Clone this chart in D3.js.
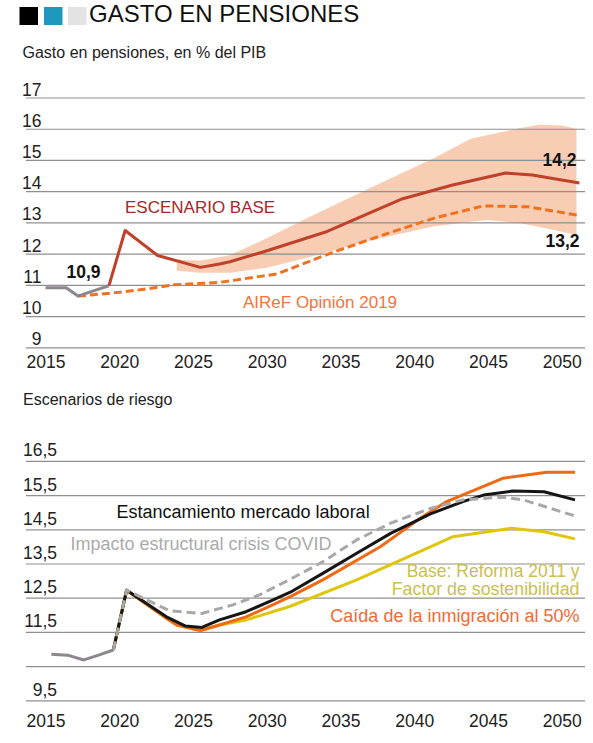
<!DOCTYPE html>
<html>
<head>
<meta charset="utf-8">
<script src="https://cdn.jsdelivr.net/npm/d3@7"></script>
<style>
  body { margin: 0; background: #fff; }
  svg { display: block; }
</style>
</head>
<body>
<div id="chart"></div>
<script>
// ---- data (x = year, y = % del PIB) ----
const yearTicks = [2015, 2020, 2025, 2030, 2035, 2040, 2045, 2050];

// panel 1: Gasto en pensiones
const topTicks = [9, 10, 11, 12, 13, 14, 15, 16, 17];
const topTickLabels = ["9", "10", "11", "12", "13", "14", "15", "16", "17"];

const histYears = [2015, 2016.4, 2017.2, 2018.2, 2019.3];
const histValues = [10.91, 10.91, 10.64, 10.8, 10.97];

const baseYears = [2019.3, 2020.4, 2022.6, 2025.5, 2026.8, 2027.5, 2029.8, 2034.1, 2039.1, 2042.6, 2046.2, 2048.0, 2051.2];
const baseValues = [10.97, 12.74, 11.94, 11.56, 11.67, 11.74, 12.06, 12.71, 13.74, 14.2, 14.58, 14.52, 14.26];

const airefYears = [2017.2, 2019.4, 2021.4, 2023.7, 2026.8, 2030.7, 2034.3, 2037.9, 2041.3, 2044.7, 2047.7, 2049.5, 2051.2];
const airefValues = [10.64, 10.73, 10.84, 11.0, 11.08, 11.35, 12.01, 12.6, 13.13, 13.53, 13.5, 13.36, 13.22];

const bandYears = [2023.9, 2025.5, 2027.5, 2030, 2033, 2037, 2041.3, 2043.8, 2045, 2047.2, 2048.5, 2050, 2051];
const bandHigh = [11.8, 11.78, 11.95, 12.49, 13.2, 14.1, 15.05, 15.67, 15.8, 16.02, 16.13, 16.1, 16.0];
const bandLow = [11.45, 11.39, 11.39, 11.55, 11.9, 12.42, 12.87, 13.02, 13.08, 12.97, 12.85, 12.7, 12.6];

// panel 2: Escenarios de riesgo
const riskTicks = [9.5, 10.5, 11.5, 12.5, 13.5, 14.5, 15.5, 16.5];
const riskTickLabels = ["9,5", "", "11,5", "12,5", "13,5", "14,5", "15,5", "16,5"];

const histYears2 = [2015.4, 2016.5, 2017.6, 2018.6, 2019.6];
const histValues2 = [10.85, 10.82, 10.68, 10.82, 10.97];

const reformaYears = [2019.6, 2020.5, 2023.2, 2023.9, 2025.5, 2026.8, 2028.6, 2030.4, 2031.6, 2036.1, 2042.6, 2046.6, 2048.8, 2050.9];
const reformaValues = [10.97, 12.72, 11.9, 11.7, 11.54, 11.7, 11.85, 12.09, 12.25, 13.02, 14.28, 14.53, 14.43, 14.22];

const inmigYears = [2019.6, 2020.5, 2023.2, 2023.9, 2025.5, 2026.8, 2028.6, 2030.4, 2031.6, 2033.8, 2037.7, 2040.4, 2042.2, 2046, 2049, 2050.9];
const inmigValues = [10.97, 12.72, 11.9, 11.7, 11.54, 11.7, 11.94, 12.29, 12.53, 13.02, 13.99, 14.82, 15.31, 15.99, 16.17, 16.17];

const laboralYears = [2019.6, 2020.5, 2023.2, 2024.5, 2025.6, 2026.8, 2028.6, 2030.4, 2031.6, 2033.8, 2036.1, 2038.4, 2041.1, 2043.3, 2044.7, 2046.7, 2048.8, 2050.9];
const laboralValues = [10.97, 12.72, 11.94, 11.67, 11.63, 11.85, 12.09, 12.43, 12.66, 13.21, 13.8, 14.38, 14.95, 15.31, 15.5, 15.62, 15.6, 15.36];

const covidYears = [2019.6, 2020.5, 2021.9, 2023.4, 2025.6, 2027.7, 2029.5, 2031.6, 2033.8, 2036.1, 2038.4, 2041.1, 2043.3, 2046, 2047.4, 2050.9];
const covidValues = [10.97, 12.72, 12.43, 12.12, 12.04, 12.29, 12.58, 13.04, 13.55, 14.19, 14.68, 15.11, 15.36, 15.44, 15.36, 14.89];

// ---- drawing ----
const W = 593, H = 743;
const SANS = "'Liberation Sans', Arial, Helvetica, sans-serif";
const NARROW = "'Liberation Sans Narrow', 'Arial Narrow', 'Liberation Sans', sans-serif";
const GRID = "#8f8f8f";

const svg = d3.select("#chart").append("svg")
  .attr("width", W)
  .attr("height", H);

// header
const squares = [
  { x: 19.5, c: "#000000" },
  { x: 44, c: "#1f98bd" },
  { x: 68, c: "#e3e3e3" },
];
svg.selectAll("rect.sq")
  .data(squares)
  .join("rect")
  .attr("class", "sq")
  .attr("x", (d) => d.x)
  .attr("y", 7)
  .attr("width", 18.5)
  .attr("height", 18)
  .attr("fill", (d) => d.c);

svg.append("text")
  .attr("x", 89)
  .attr("y", 22)
  .attr("font-family", SANS)
  .attr("font-size", 24)
  .attr("fill", "#111")
  .text("GASTO EN PENSIONES");

const x = d3.scaleLinear().domain([2015, 2050]).range([45.5, 561.7]);
const gridLeft = 26, gridRight = 585;

function zip(xs, ys) {
  return xs.map((v, i) => [v, ys[i]]);
}

function drawPanel(g, y, ticks, labels, labelX, labelLift, axisY, xLabelGap) {
  // horizontal gridlines with labels sitting on them
  const yAxis = d3.axisRight(y)
    .tickValues(ticks)
    .tickSize(gridRight - gridLeft)
    .tickFormat((d, i) => labels[i]);
  const ga = g.append("g")
    .attr("transform", `translate(${gridLeft},0)`)
    .call(yAxis);
  ga.select(".domain").remove();
  ga.selectAll(".tick line").attr("stroke", GRID).attr("stroke-width", 1.2);
  ga.selectAll(".tick text")
    .attr("x", labelX - gridLeft)
    .attr("dy", -labelLift)
    .attr("text-anchor", "end")
    .attr("font-family", NARROW)
    .attr("font-size", 17.5)
    .attr("fill", "#222");

  const xAxis = d3.axisBottom(x).tickValues(yearTicks).tickSize(0).tickFormat(d3.format("d"));
  const gx = g.append("g")
    .attr("transform", `translate(0,${axisY})`)
    .call(xAxis);
  gx.select(".domain").remove();
  gx.selectAll(".tick text")
    .attr("y", xLabelGap)
    .attr("dy", 0)
    .attr("font-family", NARROW)
    .attr("font-size", 17.5)
    .attr("fill", "#222");
  return ga;
}

function label(txt, px, py, opts) {
  svg.append("text")
    .attr("x", px)
    .attr("y", py)
    .attr("font-family", SANS)
    .attr("font-size", opts.size || 17)
    .attr("font-weight", opts.bold ? "bold" : null)
    .attr("text-anchor", opts.anchor || "start")
    .attr("fill", opts.fill || "#111")
    .text(txt);
}

// ---------- panel 1 ----------
svg.append("text")
  .attr("x", 22.5).attr("y", 58)
  .attr("font-family", SANS).attr("font-size", 16).attr("fill", "#222")
  .text("Gasto en pensiones, en % del PIB");

const yTop = d3.scaleLinear().domain([9, 17]).range([347.3, 97.5]);
const p1 = svg.append("g");

const band = d3.area()
  .x((d) => x(d[0]))
  .y0((d) => yTop(d[1]))
  .y1((d) => yTop(d[2]));
p1.append("path")
  .datum(bandYears.map((v, i) => [v, bandLow[i], bandHigh[i]]))
  .attr("d", band)
  .attr("fill", "#f9cdb3");

drawPanel(p1, yTop, topTicks, topTickLabels, 41.5, 2.5, 347.3, 20.5);

const line1 = d3.line().x((d) => x(d[0])).y((d) => yTop(d[1]));

p1.append("path")
  .datum(zip(airefYears, airefValues))
  .attr("d", line1)
  .attr("fill", "none")
  .attr("stroke", "#f0721f")
  .attr("stroke-width", 3)
  .attr("stroke-dasharray", "8,4");

p1.append("path")
  .datum(zip(baseYears, baseValues))
  .attr("d", line1)
  .attr("fill", "none")
  .attr("stroke", "#c0412a")
  .attr("stroke-width", 3)
  .attr("stroke-linejoin", "round");

p1.append("path")
  .datum(zip(histYears, histValues))
  .attr("d", line1)
  .attr("fill", "none")
  .attr("stroke", "#8b878c")
  .attr("stroke-width", 3)
  .attr("stroke-linejoin", "round");

label("10,9", 66.5, 278, { bold: true, size: 17.5 });
label("14,2", 576.5, 166, { bold: true, size: 17.5, anchor: "end" });
label("13,2", 579.5, 246.5, { bold: true, size: 17.5, anchor: "end" });
label("ESCENARIO BASE", 125, 212.5, { size: 17, fill: "#a5282d" });
label("AIReF Opinión 2019", 243, 308, { size: 17, fill: "#f4743b" });

// ---------- panel 2 ----------
svg.append("text")
  .attr("x", 23).attr("y", 405)
  .attr("font-family", SANS).attr("font-size", 16).attr("fill", "#222")
  .text("Escenarios de riesgo");

const yRisk = d3.scaleLinear().domain([9.5, 16.5]).range([700.3, 460.9]);
const p2 = svg.append("g");
drawPanel(p2, yRisk, riskTicks, riskTickLabels, 57, 5, 700.3, 26.5);

const line2 = d3.line().x((d) => x(d[0])).y((d) => yRisk(d[1]));

const scenarios = [
  { xs: reformaYears, ys: reformaValues, c: "#e0c60a", dash: null },
  { xs: inmigYears, ys: inmigValues, c: "#f06a14", dash: null },
  { xs: laboralYears, ys: laboralValues, c: "#151515", dash: null },
  { xs: covidYears, ys: covidValues, c: "#a8a8a8", dash: "9,5" },
];
p2.selectAll("path.scen")
  .data(scenarios)
  .join("path")
  .attr("class", "scen")
  .attr("d", (d) => line2(zip(d.xs, d.ys)))
  .attr("fill", "none")
  .attr("stroke", (d) => d.c)
  .attr("stroke-width", 3)
  .attr("stroke-linejoin", "round")
  .attr("stroke-dasharray", (d) => d.dash);

p2.append("path")
  .datum(zip(histYears2, histValues2))
  .attr("d", line2)
  .attr("fill", "none")
  .attr("stroke", "#8b878c")
  .attr("stroke-width", 3)
  .attr("stroke-linejoin", "round");

label("Estancamiento mercado laboral", 116.5, 518, { size: 18, fill: "#111" });
label("Impacto estructural crisis COVID", 70.5, 550, { size: 18, fill: "#ababab" });
label("Base: Reforma 2011 y", 579.5, 576.5, { size: 17.5, anchor: "end", fill: "#c9c052" });
label("Factor de sostenibilidad", 579.5, 595, { size: 17.8, anchor: "end", fill: "#c9c052" });
label("Caída de la inmigración al 50%", 579.5, 621.5, { size: 18, anchor: "end", fill: "#f36a35" });
</script>
</body>
</html>
